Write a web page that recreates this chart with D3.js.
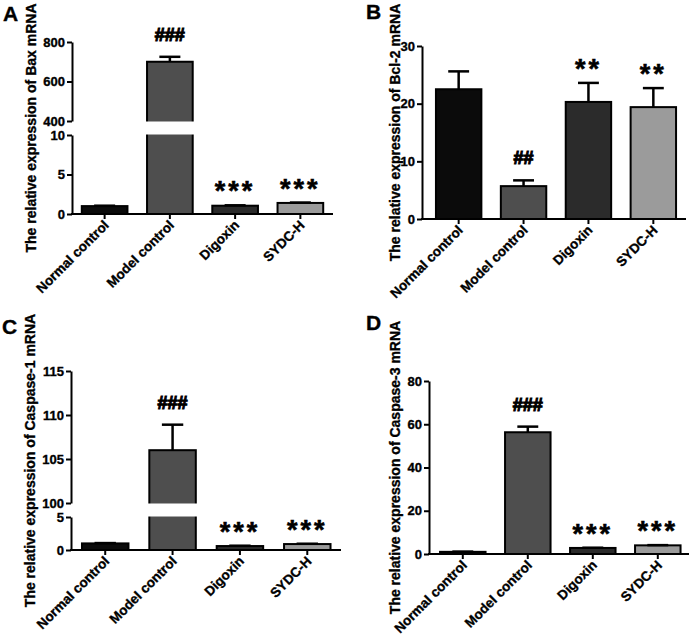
<!DOCTYPE html>
<html><head><meta charset="utf-8">
<script src="https://cdn.jsdelivr.net/npm/d3@7/dist/d3.min.js"></script>
<style>
body{margin:0;background:#fff;}
svg text{font-family:"Liberation Sans",Arial,sans-serif;font-weight:bold;fill:#000;stroke:#000;stroke-width:0.35px;}
</style></head>
<body><svg id="chart" width="692" height="637"></svg>
<script>
// ---------- data ----------
const categories = ["Normal control", "Model control", "Digoxin", "SYDC-H"];
const barColors = ["#0b0b0b", "#4e4e4e", "#2b2b2b", "#9b9b9b"];

const baxMean = [1.0, 700, 1.05, 1.4];
const baxSem  = [0.05, 25, 0.05, 0.05];
const baxSig  = ["", "###", "***", "***"];
const baxLowerTicks = [0, 5, 10];
const baxUpperTicks = [400, 600, 800];

const bcl2Mean = [22.5, 5.7, 20.3, 19.4];
const bcl2Sem  = [3.1, 1.0, 3.3, 3.3];
const bcl2Sig  = ["", "##", "**", "**"];
const bcl2Ticks = [0, 10, 20, 30];

const casp1Mean = [1.0, 106.0, 0.6, 0.9];
const casp1Sem  = [0.05, 2.9, 0.05, 0.05];
const casp1Sig  = ["", "###", "***", "***"];
const casp1LowerTicks = [0, 5];
const casp1UpperTicks = [100, 105, 110, 115];

const casp3Mean = [1.0, 56.3, 2.8, 4.0];
const casp3Sem  = [0.1, 2.6, 0.1, 0.1];
const casp3Sig  = ["", "###", "***", "***"];
const casp3Ticks = [0, 20, 40, 60, 80];

const yTitles = ["The relative expression of Bax mRNA", "The relative expression of Bcl-2 mRNA",
  "The relative expression of Caspase-1 mRNA", "The relative expression of Caspase-3 mRNA"];
const panelLetters = ["A", "B", "C", "D"];

// ---------- layout ----------
const svg = d3.select("#chart");

const panels = [
  { letter: panelLetters[0], letterPos: [3, 21], title: yTitles[0], titleX: 36, mean: baxMean, sem: baxSem, sig: baxSig,
    x0: 72, x1: 333, bandEnd: 333, po: 0.15, pi: 0.3,
    segs: [ {domain: [0, 10], range: [214, 135], ticks: baxLowerTicks},
            {domain: [400, 800], range: [121, 42], ticks: baxUpperTicks} ] },
  { letter: panelLetters[1], letterPos: [366, 19], title: yTitles[1], titleX: 400, mean: bcl2Mean, sem: bcl2Sem, sig: bcl2Sig,
    x0: 422, x1: 686, bandEnd: 690, po: 0.215, pi: 0.3,
    segs: [ {domain: [0, 30], range: [219, 46], ticks: bcl2Ticks} ] },
  { letter: panelLetters[2], letterPos: [2, 334], title: yTitles[2], titleX: 35, mean: casp1Mean, sem: casp1Sem, sig: casp1Sig,
    x0: 71, x1: 341, bandEnd: 341.5, po: 0.163, pi: 0.31,
    segs: [ {domain: [0, 5], range: [550, 517], ticks: casp1LowerTicks},
            {domain: [100, 115], range: [503, 371], ticks: casp1UpperTicks} ] },
  { letter: panelLetters[3], letterPos: [366, 330], title: yTitles[3], titleX: 400, mean: casp3Mean, sem: casp3Sem, sig: casp3Sig,
    x0: 429, x1: 689, bandEnd: 691.6, po: 0.17, pi: 0.3,
    segs: [ {domain: [0, 80], range: [554, 381], ticks: casp3Ticks} ] }
];

panels.forEach(p => {
  const g = svg.append("g");
  const scales = p.segs.map(s => d3.scaleLinear().domain(s.domain).range(s.range));
  const y = v => {
    for (let i = p.segs.length - 1; i >= 0; i--) {
      if (v >= p.segs[i].domain[0] || i === 0) return scales[i](v);
    }
  };
  const y0 = y(0);
  const x = d3.scaleBand().domain(categories).range([p.x0, p.bandEnd])
    .paddingInner(p.pi).paddingOuter(p.po);
  const bw = x.bandwidth();

  // bars
  g.selectAll("rect.bar").data(categories).join("rect")
    .attr("x", d => x(d)).attr("width", bw)
    .attr("y", (d, i) => y(p.mean[i])).attr("height", (d, i) => y0 - y(p.mean[i]))
    .attr("fill", (d, i) => barColors[i]).attr("stroke", "#000").attr("stroke-width", 2);

  // gap for broken axis
  if (p.segs.length > 1) {
    const gTop = scales[1](p.segs[1].domain[0]);
    const gBot = scales[0](p.segs[0].domain[1]);
    g.selectAll("rect.gap").data(categories.filter((d, i) => p.mean[i] > p.segs[0].domain[1])).join("rect")
      .attr("x", d => x(d) - 3).attr("width", bw + 6)
      .attr("y", gTop + 0.5).attr("height", gBot - gTop - 1).attr("fill", "#fff");
  }

  // error bars
  const capW = bw * 0.46;
  categories.forEach((c, i) => {
    const cx = x(c) + bw / 2;
    const yt = y(p.mean[i] + p.sem[i]);
    g.append("line").attr("x1", cx).attr("x2", cx).attr("y1", y(p.mean[i])).attr("y2", yt)
      .attr("stroke", "#000").attr("stroke-width", 2.5);
    g.append("line").attr("x1", cx - capW / 2).attr("x2", cx + capW / 2).attr("y1", yt).attr("y2", yt)
      .attr("stroke", "#000").attr("stroke-width", 2.5);
    const s = p.sig[i];
    if (s) {
      if (s[0] === "#") {
        g.append("text").attr("x", cx).attr("y", yt - 16).attr("text-anchor", "middle")
          .attr("font-size", 18).style("stroke-width", "1.1px").text(s);
      } else {
        g.append("text").attr("x", cx).attr("y", yt - 5).attr("text-anchor", "middle")
          .attr("font-size", 27).attr("letter-spacing", 3).style("stroke-width", "0.6px").text(s);
      }
    }
  });

  // y axes
  p.segs.forEach((s, i) => {
    const ax = g.append("g").attr("transform", `translate(${p.x0},0)`)
      .call(d3.axisLeft(scales[i]).tickValues(s.ticks).tickSize(5).tickSizeOuter(0).tickPadding(2).tickFormat(d3.format("d")));
    ax.select(".domain").attr("stroke-width", 2);
    ax.selectAll(".tick line").attr("stroke-width", 2);
    ax.selectAll(".tick text").attr("font-size", 13).attr("font-family", "Liberation Sans, Arial, sans-serif").attr("font-weight", "bold");
  });

  // x axis
  const xa = g.append("g").attr("transform", `translate(0,${y0})`)
    .call(d3.axisBottom(x).tickSize(5).tickSizeOuter(0).tickFormat(""));
  xa.select(".domain").attr("d", `M${p.x0 - 1},0H${p.x1}`).attr("stroke-width", 2);
  xa.selectAll(".tick line").attr("stroke-width", 2);
  g.selectAll("text.xl").data(categories).join("text")
    .attr("text-anchor", "end").attr("font-size", 13.5)
    .attr("transform", d => `translate(${x(d) + bw / 2 + 5},${y0 + 12}) rotate(-45)`)
    .text(d => d);

  // y title
  const yMid = (p.segs[0].range[0] + p.segs[p.segs.length - 1].range[1]) / 2;
  g.append("text").attr("text-anchor", "middle").attr("font-size", 14)
    .attr("transform", `translate(${p.titleX},${yMid}) rotate(-90)`).text(p.title);

  // panel letter
  g.append("text").attr("x", p.letterPos[0]).attr("y", p.letterPos[1]).attr("font-size", 21).text(p.letter);
});
</script></body></html>
